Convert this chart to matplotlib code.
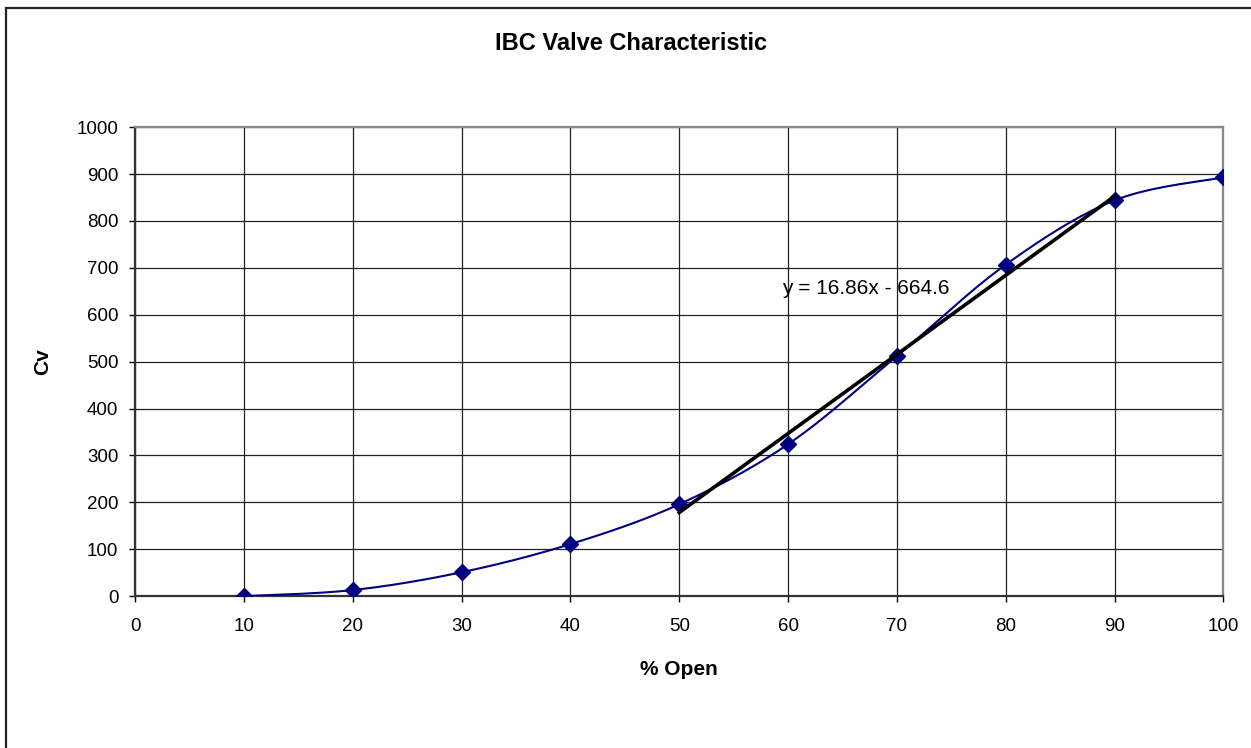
import numpy as np
import matplotlib
matplotlib.use("Agg")
from matplotlib import pyplot as plt
from matplotlib.patches import Rectangle

plt.rcParams['font.family'] = ['Liberation Sans', 'DejaVu Sans']

# data
pct_open = [10, 20, 30, 40, 50, 60, 70, 80, 90, 100]
cv = [0, 13, 51, 111, 196, 324, 512, 707, 844, 893]

# linear trendline shown on the chart (fitted over 50..90 % open)
trend_slope = 16.86
trend_icept = -664.6
trend_x = [50, 90]


def smooth(x, y, n=20):
    # Catmull-Rom style bezier like the spreadsheet's smoothed line
    x = np.asarray(x, float)
    y = np.asarray(y, float)
    px = np.concatenate([[x[0]], x, [x[-1]]])
    py = np.concatenate([[y[0]], y, [y[-1]]])
    xs, ys = [], []
    t = np.linspace(0, 1, n)
    for i in range(1, len(px) - 2):
        p0 = np.array([px[i], py[i]])
        p3 = np.array([px[i + 1], py[i + 1]])
        c1 = p0 + (np.array([px[i + 1], py[i + 1]]) - np.array([px[i - 1], py[i - 1]])) / 6
        c2 = p3 - (np.array([px[i + 2], py[i + 2]]) - np.array([px[i], py[i]])) / 6
        pts = ((1 - t) ** 3)[:, None] * p0 + (3 * (1 - t) ** 2 * t)[:, None] * c1 \
            + (3 * (1 - t) * t ** 2)[:, None] * c2 + (t ** 3)[:, None] * p3
        xs.extend(pts[:, 0])
        ys.extend(pts[:, 1])
    return xs, ys


fig = plt.figure(figsize=(12.51, 7.48), dpi=100)
# chart frame: only left and top edges fall inside the picture
fig.patches.append(Rectangle((6 / 1251, -0.1), 1.1, 1.1 - 8 / 748,
                             transform=fig.transFigure, fill=False,
                             edgecolor='#222222', linewidth=1.6))

ax = fig.add_axes([0.108, 0.203, 0.870, 0.627])

sx, sy = smooth(pct_open, cv)
ax.plot(sx, sy, color='#000080', linewidth=1.5, zorder=3)
ax.plot(pct_open, cv, linestyle='none', marker='D', markersize=8,
        color='#000080', zorder=4)

tx = np.array(trend_x, float)
ax.plot(tx, trend_slope * tx + trend_icept, color='black', linewidth=2.6, zorder=5)
ax.text(59.4, 657, 'y = %.2fx - %.1f' % (trend_slope, -trend_icept),
        fontsize=15, ha='left', va='center', zorder=6)

ax.set_xlim(0, 100)
ax.set_ylim(0, 1000)
ax.set_xticks(range(0, 101, 10))
ax.set_yticks(range(0, 1001, 100))
ax.grid(True, color='#222222', linewidth=0.9)
ax.set_axisbelow(True)
ax.tick_params(direction='out', length=4, width=1, labelsize=13.5, colors='black', pad=8)
ax.tick_params(axis='x', pad=12)
for s in ['top', 'right']:
    ax.spines[s].set_color('#888888')
    ax.spines[s].set_linewidth(1.6)
for s in ['left', 'bottom']:
    ax.spines[s].set_color('#333333')
    ax.spines[s].set_linewidth(1.6)

fig.text(631 / 1251, 1 - 43 / 748, 'IBC Valve Characteristic', fontsize=17,
         fontweight='bold', ha='center', va='center')
ax.set_xlabel('% Open', fontsize=15, fontweight='bold', labelpad=18)
fig.text(43 / 1251, 1 - 362 / 748, 'Cv', fontsize=15, fontweight='bold',
         rotation=90, ha='center', va='center')

fig.savefig('out.png', dpi=100)
